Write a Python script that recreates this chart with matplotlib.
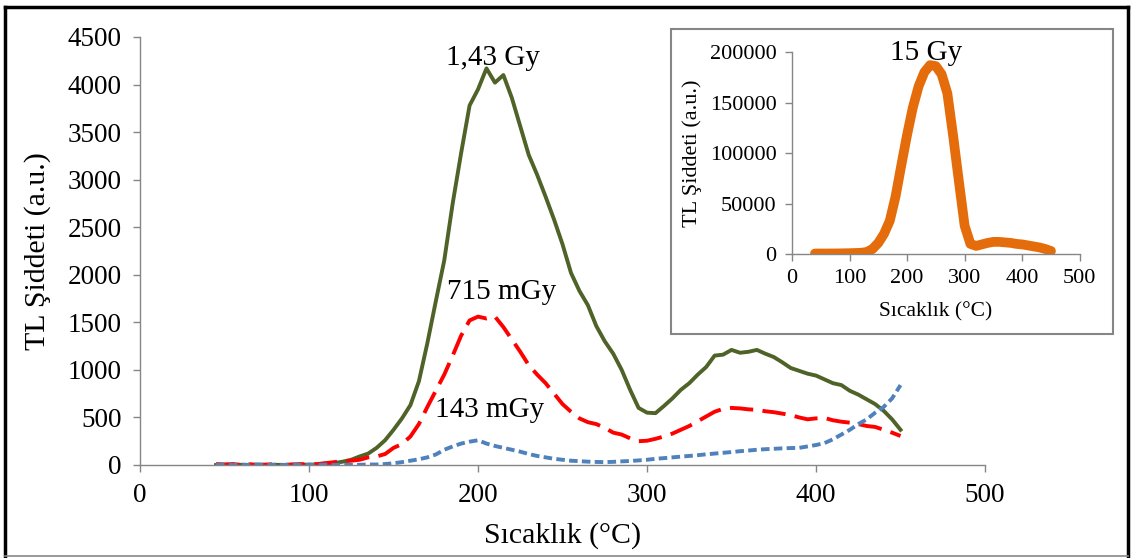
import matplotlib

matplotlib.use("Agg")
import matplotlib.pyplot as plt
from matplotlib.lines import Line2D
from matplotlib.patches import Rectangle

plt.rcParams.update({
    "font.family": "Liberation Serif",
    "font.size": 18,
})

# main panel: TL glow curves for three doses
temp = [45, 50, 55, 60, 65, 70, 75, 80, 85, 90, 95, 100, 105, 110, 115,
        120, 125, 130, 135, 140, 145, 150, 155, 160, 165, 170, 175, 180,
        185, 190, 195, 200, 205, 210, 215, 220, 225, 230, 235, 240, 245,
        250, 255, 260, 265, 270, 275, 280, 285, 290, 295, 300, 305, 310,
        315, 320, 325, 330, 335, 340, 345, 350, 355, 360, 365, 370, 375,
        380, 385, 390, 395, 400, 405, 410, 415, 420, 425, 430, 435, 440,
        445, 450]

dose_143gy = [0, 3, 0, 2, 0, 3, 0, 2, 0, 3, 0, 4, 2, 15, 20,
              35, 55, 90, 120, 180, 260, 370, 490, 630, 880, 1280, 1720, 2150,
              2750, 3280, 3780, 3950, 4170, 4020, 4100, 3860, 3560, 3260, 3050, 2820, 2580,
              2320, 2020, 1830, 1680, 1460, 1300, 1170, 1000, 790, 600, 550, 545, 620,
              700, 790, 860, 950, 1030, 1150, 1160, 1210, 1180, 1190, 1210, 1170, 1135,
              1080, 1020, 990, 960, 940, 900, 860, 840, 780, 740, 690, 640, 570,
              480, 370]

dose_715mgy = [10, 5, 10, 0, 8, 0, 5, 10, 0, 5, 10, 5, 10, 20, 30,
               40, 45, 55, 80, 90, 115, 180, 220, 300, 430, 610, 780, 950,
               1150, 1360, 1520, 1560, 1540, 1560, 1450, 1320, 1190, 1050, 950, 860, 750,
               640, 560, 490, 450, 430, 390, 340, 320, 280, 250, 255, 275, 300,
               330, 370, 410, 460, 510, 560, 590, 600, 595, 585, 580, 565, 555,
               540, 525, 500, 480, 490, 495, 470, 455, 445, 430, 410, 400, 370,
               340, 305]

dose_143mgy = [0, 5, 0, 3, 0, 5, 0, 3, 0, 5, 0, 3, 0, 5, 0,
               3, 0, 2, 5, 5, 10, 18, 30, 45, 60, 80, 110, 160,
               195, 225, 245, 260, 225, 200, 180, 160, 140, 115, 95, 80, 65,
               55, 45, 40, 35, 32, 30, 33, 38, 42, 48, 55, 65, 72,
               80, 88, 95, 103, 112, 120, 128, 136, 145, 152, 160, 166, 170,
               175, 178, 180, 195, 210, 230, 270, 320, 370, 430, 480, 550, 610,
               700, 840]

# inset: 15 Gy
inset_temp = [40, 60, 80, 100, 120, 130, 140, 150, 160, 170, 180, 190, 200,
              210, 220, 230, 240, 250, 260, 270, 280, 290, 300, 310, 320, 330,
              340, 350, 360, 370, 380, 390, 400, 410, 420, 430, 440, 450]
dose_15gy = [500, 500, 600, 800, 1200, 2000, 5000, 11000, 20000, 33000, 57000,
             88000, 118000, 145000, 166000, 180000, 187000, 186000, 178000,
             159000, 117000, 72000, 28000, 10000, 8000, 9500, 11000, 12000,
             12000, 11500, 11000, 10000, 9500, 8500, 7500, 6500, 5000, 3000]

GRAY = "#868686"


def style_axes(ax, tick_size, pad):
    for side in ("top", "right"):
        ax.spines[side].set_visible(False)
    for side in ("left", "bottom"):
        ax.spines[side].set_color(GRAY)
        ax.spines[side].set_linewidth(1.0)
    ax.tick_params(direction="out", length=5, width=1.0, color=GRAY,
                   labelsize=tick_size, labelcolor="black", pad=pad)


fig = plt.figure(figsize=(11.33, 5.58), dpi=100)

ax = fig.add_axes([0.1236, 0.1667, 0.7458, 0.7670])
ax.plot(temp, dose_143gy, color="#4F6228", lw=2.8)
ax.plot(temp, dose_715mgy, color="#FF0000", lw=2.8, dashes=(6, 2.4))
ax.plot(temp, dose_143mgy, color="#4F81BD", lw=2.8, dashes=(2.2, 1.1))
ax.set_xlim(0, 500)
ax.set_ylim(0, 4500)
ax.set_xticks(range(0, 501, 100))
ax.set_yticks(range(0, 4501, 500))
style_axes(ax, 19.5, 8)
ax.set_xlabel("Sıcaklık (°C)", fontsize=21.5, labelpad=10)
ax.set_ylabel("TL Şiddeti (a.u.)", fontsize=21.5, labelpad=12)
ax.text(209, 4280, "1,43 Gy", fontsize=21, ha="center", va="center")
ax.text(214, 1820, "715 mGy", fontsize=21, ha="center", va="center")
ax.text(207, 580, "143 mGy", fontsize=21, ha="center", va="center")

# inset frame
fig.add_artist(Rectangle((0.592, 0.4014), 0.390, 0.5466, transform=fig.transFigure,
                         facecolor="white", edgecolor=GRAY, lw=1.5, zorder=2))
ins = fig.add_axes([0.699, 0.5448, 0.254, 0.362], zorder=3)
ins.patch.set_alpha(0)
ins.plot(inset_temp, dose_15gy, color="#E46C0A", lw=7, solid_capstyle="round")
ins.set_xlim(0, 500)
ins.set_ylim(0, 200000)
ins.set_xticks(range(0, 501, 100))
ins.set_yticks(range(0, 200001, 50000))
style_axes(ins, 16, 6)
ins.set_xlabel("Sıcaklık (°C)", fontsize=15.5, labelpad=10)
ins.set_ylabel("TL Şiddeti (a.u.)", fontsize=16, labelpad=6)
ins.text(233, 199000, "15 Gy", fontsize=21, ha="center", va="center")

# outer border
fig.add_artist(Line2D([0.0044, 0.0044], [0.003, 0.9875], color="black", lw=2.5))
fig.add_artist(Line2D([0.0044, 0.9956], [0.9875, 0.9875], color="black", lw=2.5))
fig.add_artist(Line2D([0.9956, 0.9956], [0.003, 0.9875], color="black", lw=2.5))
fig.add_artist(Line2D([0.0044, 0.9956], [0.003, 0.003], color=GRAY, lw=1.2))

fig.savefig("out.png", dpi=100, facecolor="white")
